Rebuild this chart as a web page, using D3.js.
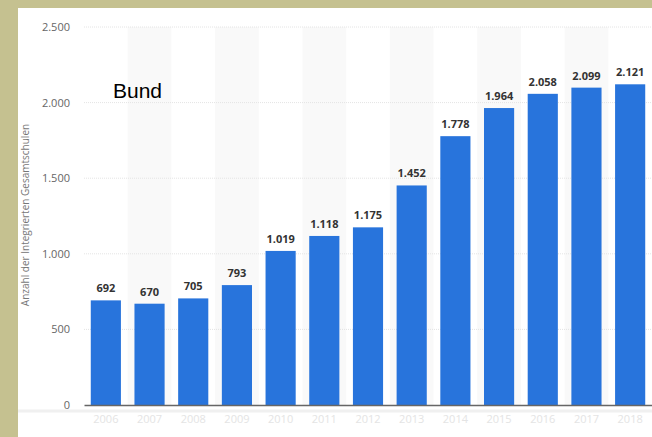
<!DOCTYPE html>
<html>
<head>
<meta charset="utf-8">
<script src="https://cdn.jsdelivr.net/npm/d3@7"></script>
<style>
  body { margin: 0; background: #c5c190; }
  svg { display: block; }
</style>
</head>
<body>
<div id="chart"></div>
<script>
// --- Données ---
const years = ["2006", "2007", "2008", "2009", "2010", "2011", "2012", "2013", "2014", "2015", "2016", "2017", "2018"];
const schools = [692, 670, 705, 793, 1019, 1118, 1175, 1452, 1778, 1964, 2058, 2099, 2121];
const yTicks = [0, 500, 1000, 1500, 2000, 2500];

const width = 652;
const height = 437;
const plot = { left: 84, right: 652, top: 27, bottom: 405 };

const fmt = d3.formatLocale({ decimal: ",", thousands: ".", grouping: [3], currency: ["", "€"] }).format(",d");

const svg = d3.select("#chart")
  .append("svg")
  .attr("width", width)
  .attr("height", height);

// Cadre blanc
svg.append("rect")
  .attr("x", 18).attr("y", 8)
  .attr("width", width - 18).attr("height", height - 8)
  .attr("fill", "#ffffff");

// --- Scales ---
const x = d3.scaleBand()
  .domain(years)
  .range([plot.left, plot.right])
  .paddingInner(0.31)
  .paddingOuter(0.155);

const y = d3.scaleLinear()
  .domain([0, 2500])
  .range([plot.bottom, plot.top]);

// Colonnes alternées
const step = x.step();
svg.selectAll(".stripe")
  .data(years.filter((d, i) => i % 2 === 1))
  .enter()
  .append("rect")
  .attr("x", d => x(d) + x.bandwidth() / 2 - step / 2)
  .attr("y", plot.top)
  .attr("width", step)
  .attr("height", plot.bottom - plot.top)
  .attr("fill", "#f9f9f9");

// Grille
svg.append("g")
  .selectAll("line")
  .data(yTicks.slice(1))
  .enter()
  .append("line")
  .attr("x1", plot.left)
  .attr("x2", plot.right)
  .attr("y1", d => y(d))
  .attr("y2", d => y(d))
  .attr("stroke", "#e4e4e4")
  .attr("stroke-dasharray", "1,1");

// Axe Y
const yAxis = svg.append("g")
  .attr("transform", `translate(${plot.left},0)`)
  .call(d3.axisLeft(y).tickValues(yTicks).tickFormat(fmt).tickSize(0).tickPadding(14));
yAxis.select(".domain").remove();
yAxis.selectAll("text")
  .attr("fill", "#666")
  .style("font-family", "'Open Sans', sans-serif")
  .style("font-size", "11px");

// Titre Y
svg.append("text")
  .attr("transform", `translate(25, 215) rotate(-90)`)
  .attr("text-anchor", "middle")
  .attr("dy", "0.35em")
  .attr("fill", "#777")
  .style("font-family", "'Open Sans', sans-serif")
  .style("font-size", "10px")
  .text("Anzahl der Integrierten Gesamtschulen");

// Bande claire sous l'axe
svg.append("line")
  .attr("x1", 18).attr("x2", width)
  .attr("y1", 411).attr("y2", 411)
  .attr("stroke", "#f0f0f0")
  .attr("stroke-width", 3);

// --- Barres ---
svg.selectAll(".bar")
  .data(years.map((yr, i) => ({ year: yr, value: schools[i] })))
  .enter()
  .append("rect")
  .attr("class", "bar")
  .attr("x", d => x(d.year))
  .attr("y", d => y(d.value))
  .attr("width", x.bandwidth())
  .attr("height", d => y(0) - y(d.value))
  .attr("fill", "#2874dc");

// Etiquettes des valeurs
svg.selectAll(".label")
  .data(years.map((yr, i) => ({ year: yr, value: schools[i] })))
  .enter()
  .append("text")
  .attr("x", d => x(d.year) + x.bandwidth() / 2)
  .attr("y", d => y(d.value) - 8)
  .attr("text-anchor", "middle")
  .attr("fill", "#333")
  .style("font-family", "'Open Sans', sans-serif")
  .style("font-weight", "bold")
  .style("font-size", "11px")
  .text(d => fmt(d.value));

// Axe X
const xAxis = svg.append("g")
  .attr("transform", `translate(0,${plot.bottom})`)
  .call(d3.axisBottom(x).tickSize(0).tickPadding(10));
xAxis.select(".domain").attr("stroke", "#666").attr("stroke-width", 1.5);
xAxis.selectAll("text")
  .attr("fill", "#e4e4e4")
  .style("font-family", "'Open Sans', sans-serif")
  .style("font-size", "11px");

// Libellé "Bund"
svg.append("text")
  .attr("x", 113)
  .attr("y", 98)
  .attr("fill", "#000")
  .style("font-family", "'Liberation Sans', Arial, sans-serif")
  .style("font-size", "21px")
  .text("Bund");
</script>
</body>
</html>
